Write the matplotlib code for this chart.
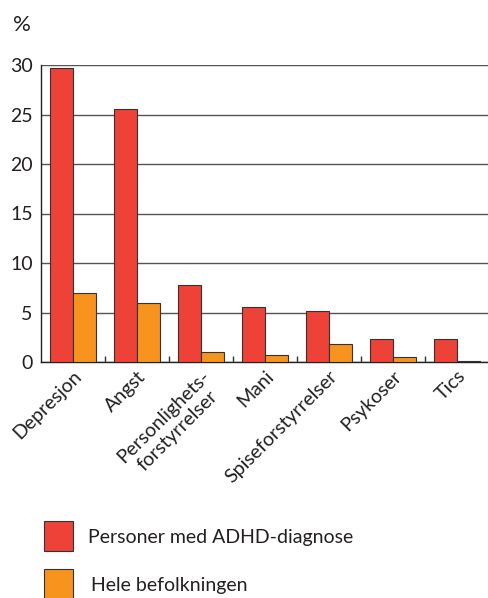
import matplotlib
matplotlib.use("Agg")
import matplotlib.pyplot as plt
from matplotlib.patches import Rectangle
import numpy as np

categories = ["Depresjon", "Angst", "Personlighets-\nforstyrrelser", "Mani",
              "Spiseforstyrrelser", "Psykoser", "Tics"]
adhd = [29.7, 25.6, 7.8, 5.6, 5.2, 2.3, 2.3]
population = [7.0, 6.0, 1.0, 0.75, 1.8, 0.5, 0.15]
series_names = ["Personer med ADHD-diagnose", "Hele befolkningen"]
y_ticks = [0, 5, 10, 15, 20, 25, 30]

red = "#EE4137"
orange = "#F7941E"
edge = "#333333"
text_col = "#231F20"
fs = 14

plt.rcParams["font.family"] = ["Lato", "DejaVu Sans"]

fig = plt.figure(figsize=(4.89, 5.98), dpi=100)
ax = fig.add_axes([41 / 489, 1 - 362 / 598, 1 - 41 / 489, (362 - 65) / 598])

x = np.arange(len(categories))
w = 0.36
ax.bar(x - w / 2, adhd, width=w, color=red, edgecolor=edge, linewidth=0.8, zorder=3)
ax.bar(x + w / 2, population, width=w, color=orange, edgecolor=edge, linewidth=0.8, zorder=3)

ax.set_xlim(-0.5, len(categories) - 0.5)
ax.set_ylim(0, 30)
ax.set_yticks(y_ticks)
ax.set_yticklabels([str(v) for v in y_ticks], fontsize=fs, color=text_col)
ax.tick_params(axis="y", length=0, pad=6)
ax.yaxis.grid(True, color="#555555", linewidth=1.0, zorder=0)
ax.set_axisbelow(True)

ax.set_xticks(x)
ax.set_xticklabels(categories, rotation=45, ha="right", rotation_mode="anchor",
                   fontsize=fs, color=text_col, multialignment="center")
ax.tick_params(axis="x", length=0, pad=4)
ax.set_xticks(np.arange(len(categories) - 1) + 0.5, minor=True)
ax.tick_params(axis="x", which="minor", direction="in", length=4, width=1, color="#333333")

for s in ["top", "right"]:
    ax.spines[s].set_visible(False)
for s in ["left", "bottom"]:
    ax.spines[s].set_color("#222222")
    ax.spines[s].set_linewidth(1.0)

fig.text(13 / 489, 1 - 25 / 598, "%", fontsize=16, color=text_col, va="center", ha="left")

# legend drawn as figure-level patches with labels
for i, (name, col) in enumerate(zip(series_names, [red, orange])):
    y0 = 521 + i * 48
    fig.patches.append(Rectangle((44 / 489, 1 - (y0 + 30) / 598), 29 / 489, 30 / 598,
                                 transform=fig.transFigure, facecolor=col,
                                 edgecolor=edge, linewidth=0.8))
    fig.text((88 + 3 * i) / 489, 1 - (y0 + 17) / 598, name, fontsize=fs,
             color=text_col, va="center", ha="left")

fig.savefig("out.png", dpi=100)
